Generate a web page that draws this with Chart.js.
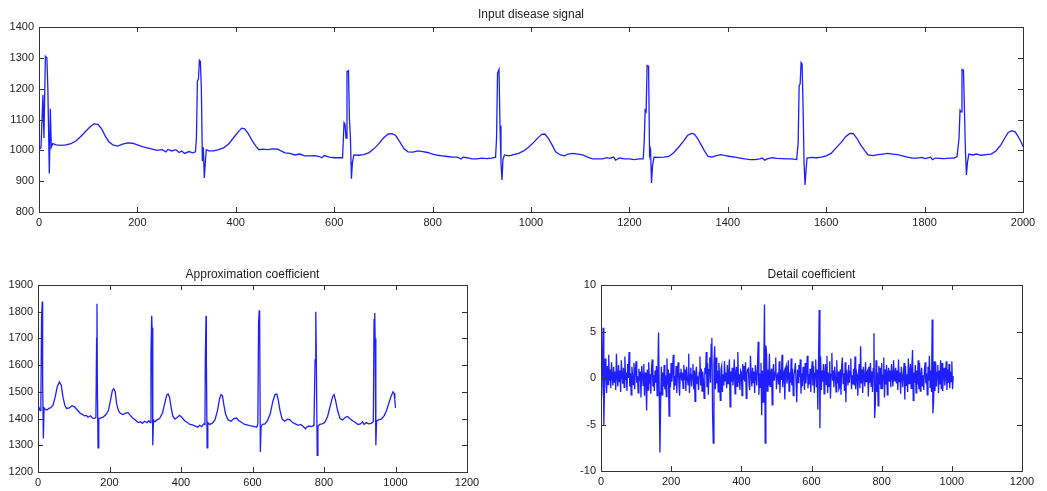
<html>

<head>
  <meta charset="utf-8">
  <style>
    html,
    body {
      margin: 0;
      padding: 0;
      background: #fff;
    }

    canvas {
      position: absolute;
    }
  </style>
</head>

<body>
  <canvas id="top" width="1047" height="240" style="left:0;top:0"></canvas>
  <canvas id="approx" width="520" height="231" style="left:0;top:260px"></canvas>
  <canvas id="detail" width="527" height="231" style="left:520px;top:260px"></canvas>
  <script src="https://cdn.jsdelivr.net/npm/chart.js@4.4.0/dist/chart.umd.min.js"></script>
  <script type="text/javascript">
    // input disease signal, sample index / amplitude
    const inputX = [0, 4, 8, 10, 13, 16, 18, 21, 23, 25, 28, 35, 45, 55, 65, 75, 85, 95, 105, 112, 120, 128, 135, 142, 150, 160, 170, 180, 190, 200, 210, 220, 230, 240, 250, 258, 262, 270, 278, 285, 290, 296, 305, 312, 318,
      320, 322, 324, 326, 328, 330, 332, 334, 336, 338, 340, 345, 355, 365, 375, 385, 395, 405, 412, 418, 425, 432, 440, 447, 455, 465, 475, 485, 492, 500, 510, 520, 530, 540, 550, 560, 570, 575, 580, 590, 600, 610, 617,
      620, 622, 624, 626, 629, 631, 633, 635, 637, 640, 650, 660, 670, 680, 690, 700, 710, 718, 725, 733, 742, 750, 760, 770, 780, 790, 800, 810, 820, 830, 840, 850, 858, 862, 870, 880, 890, 900, 910, 920, 928,
      930, 932, 935, 937, 939, 941, 943, 946, 955, 965, 975, 985, 995, 1005, 1015, 1022, 1028, 1035, 1042, 1050, 1060, 1068, 1075, 1085, 1095, 1105, 1115, 1125, 1135, 1145, 1155, 1160, 1168, 1172, 1180, 1190, 1200, 1210, 1220, 1228,
      1230, 1232, 1234, 1236, 1239, 1241, 1243, 1245, 1247, 1250, 1260, 1270, 1280, 1290, 1300, 1310, 1318, 1326, 1332, 1338, 1345, 1352, 1360, 1368, 1375, 1385, 1395, 1405, 1415, 1425, 1435, 1445, 1455, 1465, 1470, 1475, 1480, 1490, 1500, 1510, 1520, 1530, 1540,
      1543, 1545, 1547, 1549, 1551, 1553, 1555, 1557, 1559, 1561, 1570, 1580, 1590, 1600, 1610, 1620, 1630, 1640, 1648, 1655, 1662, 1670, 1678, 1685, 1695, 1705, 1715, 1725, 1735, 1745, 1755, 1765, 1775, 1785, 1795, 1800, 1805, 1812, 1816, 1822, 1830, 1840, 1850, 1860, 1866,
      1870, 1872, 1874, 1876, 1879, 1881, 1883, 1885, 1887, 1890, 1898, 1905, 1915, 1925, 1935, 1945, 1955, 1963, 1970, 1977, 1984, 1990, 1996, 2000];
    const inputY = [1003, 1008, 1180, 1040, 1305, 1300, 1200, 925, 1135, 1010, 1022, 1018, 1016, 1018, 1022, 1030, 1045, 1062, 1078, 1086, 1084, 1068, 1045, 1028, 1018, 1014, 1020, 1024, 1023, 1018, 1012, 1008, 1004, 1000, 1002, 995, 1003, 998, 1002, 993, 998, 990, 996, 992, 995,
      1040, 1225, 1230, 1292, 1288, 1200, 965, 1010, 910, 960, 1002, 998, 998, 1002, 1008, 1020, 1040, 1060, 1072, 1070, 1055, 1035, 1015, 1002, 1004, 1002, 1005, 1004, 998, 992, 990, 985, 988, 982, 982, 983, 980, 976, 983, 978, 976, 976, 976,
      1090, 1085, 1040, 1255, 1258, 1100, 1040, 908, 960, 985, 984, 986, 992, 1004, 1020, 1040, 1053, 1054, 1048, 1028, 1005, 995, 994, 998, 996, 993, 988, 984, 982, 980, 978, 978, 972, 978, 976, 972, 972, 975, 973, 975, 978,
      1040, 1250, 1262, 1080, 960, 904, 970, 985, 982, 986, 990, 998, 1010, 1025, 1042, 1052, 1053, 1040, 1020, 995, 985, 982, 988, 990, 988, 985, 978, 972, 972, 972, 976, 974, 978, 968, 975, 972, 972, 970, 972, 972,
      1025, 1130, 1125, 1275, 1273, 985, 1000, 894, 950, 978, 977, 978, 980, 992, 1010, 1030, 1048, 1055, 1053, 1040, 1020, 1000, 980, 978, 982, 986, 983, 980, 978, 975, 972, 970, 970, 972, 975, 968, 972, 976, 974, 973, 972, 972, 970,
      1025, 1210, 1215, 1285, 1280, 1140, 960, 888, 935, 975, 977, 976, 978, 982, 990, 1008, 1025, 1045, 1055, 1054, 1040, 1018, 1000, 985, 983, 986, 988, 990, 988, 986, 982, 978, 975, 975, 977, 973, 975, 978, 970, 975, 974, 973, 975, 975, 980,
      1040, 1130, 1125, 1262, 1260, 1130, 1000, 920, 960, 988, 985, 988, 984, 986, 988, 998, 1018, 1040, 1058, 1064, 1060, 1045, 1028, 1012];

    // approximation coefficient
    const approxX = [0, 3, 6, 8, 10, 12, 13, 15, 17, 20, 25, 30, 35, 42, 48, 54, 60, 65, 70, 75, 80, 88, 95, 102, 110, 118, 125, 130, 135, 140, 147, 152, 158, 162,
      164, 165, 166, 168, 170, 175, 182, 190, 197, 203, 208, 212, 216, 220, 225, 230, 237, 245, 252, 258, 265, 272, 280, 287, 292, 298, 305, 310, 314,
      316, 318, 319, 321, 323, 327, 333, 340, 348, 355, 360, 364, 368, 372, 377, 383, 390, 396, 402, 410, 418, 425, 432, 440, 447, 452, 458, 463, 467,
      468, 470, 471, 473, 475, 480, 487, 495, 502, 508, 512, 516, 520, 525, 532, 540, 548, 555, 562, 570, 578, 585, 592, 600, 606, 612, 615,
      617, 619, 620, 622, 624, 628, 635, 642, 650, 657, 663, 668, 672, 677, 683, 690, 698, 705, 712, 720, 728, 735, 742, 748, 752, 758, 765, 772,
      775, 777, 778, 781, 783, 788, 795, 802, 810, 818, 824, 828, 832, 838, 845, 852, 860, 866, 872, 880, 888, 895, 902, 908, 912, 918, 925, 932, 938,
      940, 942, 943, 945, 947, 952, 960, 968, 975, 982, 988, 993, 996, 998, 1000];
    const approxY = [1425, 1440, 1430, 1450, 1780, 1838, 1540, 1325, 1440, 1435, 1432, 1438, 1440, 1450, 1480, 1520, 1537, 1525, 1480, 1450, 1438, 1440, 1448, 1444, 1432, 1420, 1415, 1410, 1412, 1405, 1410, 1402, 1400, 1405,
      1700, 1830, 1530, 1290, 1400, 1402, 1405, 1415, 1430, 1470, 1505, 1512, 1500, 1455, 1430, 1420, 1415, 1420, 1422, 1412, 1402, 1395, 1385, 1388, 1382, 1390, 1385, 1392, 1385,
      1640, 1785, 1740, 1300, 1395, 1388, 1395, 1400, 1420, 1460, 1488, 1492, 1480, 1445, 1410, 1398, 1405, 1412, 1405, 1392, 1385, 1378, 1376, 1372, 1368, 1375, 1370, 1380, 1378,
      1620, 1785, 1620, 1290, 1385, 1378, 1382, 1395, 1430, 1475, 1490, 1485, 1450, 1415, 1395, 1390, 1400, 1402, 1392, 1385, 1378, 1376, 1374, 1372, 1370, 1368, 1380,
      1760, 1805, 1770, 1275, 1370, 1378, 1380, 1392, 1420, 1465, 1490, 1492, 1470, 1430, 1398, 1390, 1398, 1395, 1385, 1380, 1375, 1378, 1370, 1362, 1368, 1372, 1370, 1375,
      1620, 1800, 1700, 1262, 1370, 1378, 1380, 1385, 1408, 1450, 1482, 1490, 1470, 1430, 1400, 1395, 1405, 1408, 1400, 1392, 1385, 1378, 1380, 1388, 1378, 1385, 1380, 1382, 1388,
      1770, 1795, 1700, 1300, 1390, 1395, 1398, 1410, 1430, 1460, 1485, 1500, 1495, 1470, 1440];

    // detail coefficient, one value every detailStep samples (20 per row = 40 samples)
    const detailStart = 0;
    const detailStep = 2;
    const detailY = [
      2.4, -2.0, 1.6, 5.4, -5.1, -1.2, 2.1, 0.4, -1.6, 1.3, -0.7, 2.5, -0.3, 0.9, -1.1, 1.7, 0.2, -0.8, 1.2, -0.5,
      0.7, -1.3, 2.6, 0.1, -0.9, 1.4, -0.4, 0.8, -1.5, 1.9, 0.3, -0.6, 1.1, -1.0, 2.3, -0.2, 0.6, -1.4, 1.5, 0.0,
      2.8, -0.9, 0.5, -1.8, 1.2, 0.3, -0.7, 1.6, -1.2, 0.9, 1.8, -0.5, 0.2, -1.6, 1.0, -0.3, 0.7, -2.1, 1.3, 0.4,
      -0.8, 1.5, -1.9, 0.6, -0.2, -3.5, 0.9, -1.3, 1.7, -0.6, 0.4, -1.7, 1.1, 2.0, -0.9, 0.3, -1.4, 0.8, -0.5, 1.3,
      -1.9, 0.7, 4.9, -1.5, -8.0, -2.6, 1.2, -1.8, 0.6, -0.9, 1.4, -1.2, 0.3, -2.0, 2.1, -0.7, 0.9, -4.1, 0.5, -1.0,
      1.6, -0.4, 0.8, 2.5, -1.3, 0.2, -0.8, 1.3, -1.6, 0.7, 1.7, -0.6, -1.9, 0.5, 1.0, -0.3, 0.6, -1.1, 1.4, -0.2,
      0.9, -1.4, 1.2, 0.1, -0.7, 2.6, -1.6, 0.4, 1.1, -0.9, 0.3, 1.5, -1.2, 0.8, -2.5, 0.5, 1.2, -0.6, 0.2, -1.3,
      0.6, 2.3, -0.8, 1.0, -1.4, 0.7, -0.3, -2.2, 1.1, 0.4, 2.8, -1.0, 1.6, -1.8, 0.9, 2.2, -0.5, 3.6, 4.3, -3.8,
      -7.0, 1.5, 3.4, -1.2, 2.2, -0.6, 0.8, -1.5, 1.6, 0.2, -2.4, 0.9, 1.3, -1.5, 0.4, -0.8, 1.8, -0.3, 0.6, -1.1,
      1.4, -0.6, 0.5, 2.0, -3.1, 0.7, -0.4, 1.1, -0.8, 0.3, 2.0, -1.7, 0.6, 1.2, -0.9, 2.8, -0.5, 0.4, -1.3, 0.8,
      0.6, -1.9, 1.5, -0.2, 1.3, -0.4, 1.7, -2.2, 0.5, 0.9, 1.0, -0.7, -1.3, 2.4, 0.3, -0.9, 1.1, -0.5, 0.7, -1.6,
      1.4, 0.2, -0.8, 1.2, 3.9, -1.8, 0.5, -1.0, 1.6, -4.0, 0.8, -2.6, 1.3, 7.9, -7.0, 3.5, 2.6, -1.4, 0.9, -0.8,
      2.6, -0.9, 0.4, 1.0, -2.9, 0.8, 1.5, -0.3, 0.6, 2.2, -1.2, 0.3, 0.6, -0.7, 1.8, -1.6, 0.9, -0.2, 2.5, -1.0,
      0.4, 0.7, -2.3, 1.0, 1.3, -0.6, 0.2, 1.9, -1.4, 0.6, -0.5, 2.1, -0.8, 1.0, -1.9, 0.3, 0.8, 1.6, -0.4, -2.6,
      0.9, -0.5, 1.4, 0.1, 2.0, -1.7, 0.5, -0.9, 1.2, 0.3, -1.3, 1.6, -0.6, 0.8, 2.4, -1.1, 0.4, -0.7, 1.0, -1.5,
      0.6, 1.8, -0.8, 1.3, -1.6, 0.5, 2.0, -1.0, 0.9, -3.4, 1.6, 7.3, -5.4, 2.3, -1.3, 0.8, -0.4, 1.5, -1.7, 0.6,
      1.5, -0.7, 2.4, -1.6, 0.6, -0.9, 1.8, -2.2, 0.4, 2.7, -0.3, 0.8, -1.0, 1.2, 0.2, -1.5, 1.9, -0.6, 0.7, -1.2,
      -1.0, 0.9, -1.8, 1.3, 2.2, -0.6, 0.5, -1.4, 1.7, -2.6, 0.9, 0.2, -0.8, 1.4, -0.5, 0.7, 2.1, -1.2, 0.3, -0.7,
      1.0, -0.8, 2.3, -1.2, 0.7, 0.3, -1.9, 0.4, 1.5, -1.1, 3.4, -0.6, 0.9, -1.6, 1.2, 0.1, -0.9, 1.7, -0.4, 0.6,
      0.8, -2.0, 1.2, -0.5, 1.6, -0.9, 0.7, -1.5, 1.0, 4.8, -4.3, -2.8, 1.9, -1.5, 0.6, -3.0, 1.3, -0.7, 1.1, -1.2,
      1.6, -1.2, 0.3, 2.2, -2.1, 0.9, -0.7, 1.4, -1.8, 0.5, 1.1, -0.4, 0.8, -1.0, 1.5, 0.2, -0.9, 1.9, -0.3, 0.6,
      1.1, -0.6, 0.8, -1.3, 2.0, -0.4, 0.6, -1.7, 1.2, 0.2, -1.0, 0.5, 1.6, -2.3, 1.3, -0.8, 0.4, -1.5, 2.1, -0.6,
      0.7, 1.5, -1.1, 0.9, 3.0, -2.4, 0.6, -0.5, 1.4, -1.6, 0.8, -0.7, 1.9, -1.2, 1.6, -1.4, 0.4, 1.1, -0.9, 0.3,
      -1.3, 0.9, 1.7, -0.6, 0.5, -1.8, 1.2, -0.3, 2.4, -1.0, 0.8, -1.5, 6.3, -3.8, -2.6, 1.8, -1.4, 1.7, -0.9, 0.6,
      1.4, -1.6, 0.8, -0.7, 1.9, -1.2, 1.6, -1.4, 0.5, 1.1, -0.8, 0.3, 1.8, -1.3, 0.9, -0.5, 1.5, -1.1, 0.7, -0.4,
      1.8, -1.2, 0.2];

    const lineColor = 'rgb(30,30,255)';
    const textColor = '#222';
    const fontFamily = '"Liberation Sans", Arial, sans-serif';

    // matlab-like box with inward tick marks on all four sides
    const boxPlugin = {
      id: 'box',
      afterDraw(chart) {
        const { ctx, chartArea: a, scales } = chart;
        ctx.save();
        ctx.strokeStyle = '#333';
        ctx.lineWidth = 1;
        ctx.strokeRect(Math.round(a.left) + 0.5, Math.round(a.top) + 0.5, Math.round(a.right - a.left), Math.round(a.bottom - a.top));
        ctx.beginPath();
        scales.x.ticks.forEach(t => {
          const px = Math.round(scales.x.getPixelForValue(t.value)) + 0.5;
          ctx.moveTo(px, a.bottom); ctx.lineTo(px, a.bottom - 5);
          ctx.moveTo(px, a.top); ctx.lineTo(px, a.top + 5);
        });
        scales.y.ticks.forEach(t => {
          const py = Math.round(scales.y.getPixelForValue(t.value)) + 0.5;
          ctx.moveTo(a.left, py); ctx.lineTo(a.left + 5, py);
          ctx.moveTo(a.right, py); ctx.lineTo(a.right - 5, py);
        });
        ctx.stroke();
        ctx.restore();
      }
    };

    function makeChart(id, title, points, xr, yr, dims) {
      return new Chart(document.getElementById(id), {
        type: 'scatter',
        data: {
          datasets: [{
            data: points,
            showLine: true,
            borderColor: lineColor,
            borderWidth: 1.3,
            pointRadius: 0,
            tension: 0,
          }],
        },
        plugins: [boxPlugin],
        options: {
          responsive: false,
          animation: false,
          devicePixelRatio: 1,
          layout: { padding: { left: 0, right: dims.right, top: 0, bottom: 0 } },
          plugins: {
            legend: { display: false },
            tooltip: { enabled: false },
            title: {
              display: true,
              text: title,
              fullSize: false,
              color: textColor,
              font: { family: fontFamily, size: 12, weight: 'normal', lineHeight: 1.2 },
              padding: { top: 7, bottom: dims.titleBottom },
            },
          },
          scales: {
            x: {
              type: 'linear',
              min: xr[0],
              max: xr[1],
              grid: { display: false, drawTicks: false },
              border: { display: false },
              ticks: { stepSize: xr[2], color: textColor, padding: 4, maxRotation: 0, format: { useGrouping: false }, font: { family: fontFamily, size: 11 } },
              afterFit: s => { s.height = dims.xh; s.paddingLeft = 0; s.paddingRight = 0; },
            },
            y: {
              type: 'linear',
              min: yr[0],
              max: yr[1],
              grid: { display: false, drawTicks: false },
              border: { display: false },
              ticks: { stepSize: yr[2], color: textColor, padding: 5, format: { useGrouping: false }, font: { family: fontFamily, size: 11 } },
              afterFit: s => { s.width = dims.yw; s.paddingTop = 0; s.paddingBottom = 0; },
            },
          },
        },
      });
    }

    makeChart('top', 'Input disease signal',
      inputX.map((x, i) => ({ x, y: inputY[i] })),
      [0, 2000, 200], [800, 1400, 100],
      { right: 24, yw: 39, xh: 28, titleBottom: 5.6 });

    makeChart('approx', 'Approximation coefficient',
      approxX.map((x, i) => ({ x, y: approxY[i] })),
      [0, 1200, 200], [1200, 1900, 100],
      { right: 53, yw: 38, xh: 19, titleBottom: 3.6 });

    makeChart('detail', 'Detail coefficient',
      detailY.map((y, i) => ({ x: detailStart + i * detailStep, y })),
      [0, 1200, 200], [-10, 10, 5],
      { right: 25, yw: 81, xh: 20, titleBottom: 3.6 });
  </script>
</body>

</html>
